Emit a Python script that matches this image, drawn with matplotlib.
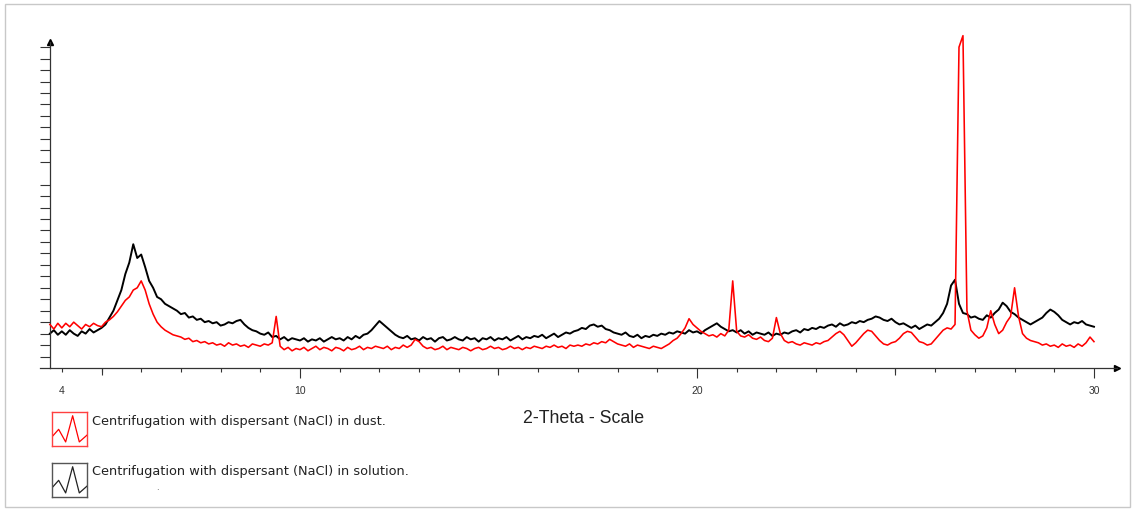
import numpy as np
import matplotlib
matplotlib.use("Agg")
import matplotlib.pyplot as plt
from matplotlib.patches import Rectangle
from matplotlib.ticker import FixedLocator, FuncFormatter

# ---------------- data (2-theta grid, 0.1 deg steps; intensities) ----
two_theta = np.round(np.arange(3.7, 30.0001, 0.1), 1)

solution_counts = [
    300, 330, 290,
    320, 290, 330, 300, 280, 320, 300, 340, 310, 330,
    350, 380, 440, 500, 590, 680, 820, 920, 1080, 960,
    990, 880, 760, 700, 620, 600, 560, 540, 520, 500,
    470, 480, 440, 450, 420, 430, 400, 410, 390, 400,
    370, 380, 400, 390, 410, 420, 380, 350, 330, 320,
    300, 290, 310, 270, 280, 250, 270, 240, 260, 250,
    240, 260, 230, 250, 240, 260, 230, 250, 270, 250,
    260, 240, 270, 250, 280, 260, 290, 300, 330, 370,
    410, 380, 350, 320, 290, 270, 260, 280, 250, 260,
    240, 270, 250, 260, 230, 260, 270, 240, 250, 270,
    250, 240, 270, 250, 260, 230, 260, 250, 270, 240,
    260, 250, 270, 240, 260, 280, 250, 270, 260, 280,
    270, 290, 260, 280, 300, 270, 290, 310, 300, 320,
    330, 350, 340, 370, 380, 360, 370, 340, 330, 310,
    300, 290, 310, 280, 270, 290, 260, 280, 270, 290,
    280, 300, 290, 310, 300, 320, 310, 300, 330, 310,
    320, 300, 330, 350, 370, 390, 360, 340, 320, 330,
    310, 330, 300, 320, 290, 310, 300, 290, 310, 280,
    300, 290, 310, 300, 320, 330, 310, 340, 330, 350,
    340, 360, 350, 370, 380, 360, 390, 370, 380, 400,
    390, 410, 400, 420, 430, 450, 440, 420, 410, 430,
    400, 380, 390, 370, 350, 370, 340, 360, 380, 370,
    400, 430, 480, 560, 720, 770, 560, 480, 470, 440,
    450, 430, 420, 460, 440, 480, 510, 570, 540, 490,
    470, 440, 420, 400, 380, 400, 420, 440, 480, 510,
    490, 460, 420, 400, 380, 400, 390, 410, 380, 370,
    360,
]

dust_counts = [
    380, 340, 390,
    350, 390, 360, 400, 370, 340, 380, 360, 390, 370,
    360, 400, 420, 450, 490, 540, 590, 620, 680, 700,
    760, 680, 560, 470, 400, 360, 330, 310, 290, 280,
    270, 250, 260, 230, 240, 220, 230, 210, 220, 200,
    210, 190, 220, 200, 210, 190, 200, 180, 210, 200,
    190, 210, 200, 220, 450, 190, 160, 180, 150, 170,
    160, 180, 150, 170, 190, 160, 180, 170, 150, 180,
    170, 150, 180, 160, 170, 190, 160, 180, 170, 190,
    180, 170, 190, 160, 180, 170, 200, 180, 200, 250,
    230, 190, 170, 180, 160, 170, 190, 160, 180, 170,
    160, 180, 170, 150, 170, 180, 160, 170, 190, 170,
    180, 160, 170, 190, 170, 180, 160, 180, 170, 190,
    180, 170, 190, 180, 200, 180, 190, 170, 200, 190,
    200, 190, 210, 200, 220, 210, 230, 220, 250, 230,
    210, 200, 190, 210, 180, 200, 190, 180, 170, 190,
    180, 170, 190, 210, 240, 260, 300, 350, 430, 380,
    350, 320, 300, 280, 290, 270, 300, 280, 330, 760,
    320, 280, 270, 290, 260, 250, 270, 240, 230, 260,
    440, 300, 240, 220, 230, 210, 200, 220, 210, 200,
    220, 210, 230, 240, 270, 300, 320, 290, 240, 190,
    220, 260, 300, 330, 320, 280, 240, 210, 200, 220,
    230, 260, 300, 320, 310, 270, 230, 220, 200, 210,
    250, 290, 330, 350, 340, 380, 2800, 2900, 500, 330,
    290, 260, 280, 350, 500, 380, 300, 330, 400, 450,
    700, 450, 300, 260, 240, 230, 220, 200, 210, 190,
    200, 180, 210, 190, 200, 180, 210, 190, 220, 270,
    230,
]

series_labels = [
    "Centrifugation with dispersant (NaCl) in dust.",
    "Centrifugation with dispersant (NaCl) in solution.",
]
x_label = "2-Theta - Scale"
x_tick_labels = {4: "4", 10: "10", 20: "20", 30: "30"}

# ---------------- figure ----------------
W, H = 1134, 511
fig = plt.figure(figsize=(W / 100, H / 100), dpi=100)
fig.patch.set_facecolor("white")

def fx(px):
    return px / W

def fy(py):
    return 1 - py / H

ax_left, ax_right, ax_bottom, ax_top = 49.5, 1117.0, 368.0, 42.0
ax = fig.add_axes([fx(ax_left), fy(ax_bottom), (ax_right - ax_left) / W, (ax_bottom - ax_top) / H])
ax.set_xlim(3.69, 30.58)
ax.set_ylim(0, (ax_bottom - ax_top) / 11.46 * 100)

ax.plot(two_theta, solution_counts, color="black", lw=1.4, zorder=2, clip_on=False)
ax.plot(two_theta, dust_counts, color="#ff0000", lw=1.15, zorder=3, clip_on=False)

axis_col = "#333333"
for s in ["top", "right"]:
    ax.spines[s].set_visible(False)
for s in ["left", "bottom"]:
    ax.spines[s].set_color(axis_col)
    ax.spines[s].set_linewidth(0.9)

# arrows & extension of x axis to the left of the y-axis
ax.plot([-10.0 / (ax_right - ax_left), 0], [0, 0], transform=ax.transAxes,
        color=axis_col, lw=0.9, clip_on=False)
ax.plot(1, 0, marker=">", ms=5, color="black", transform=ax.transAxes, clip_on=False)
ax.plot(0, 1, marker="^", ms=5, color="black", transform=ax.transAxes, clip_on=False)

# x ticks
pt = 72 / 100  # points per pixel
ax.xaxis.set_major_locator(FixedLocator([10, 20, 30]))
ax.xaxis.set_minor_locator(FixedLocator(list(range(4, 31))))
ax.xaxis.set_major_formatter(FuncFormatter(lambda v, p: x_tick_labels.get(int(round(v)), "")))
ax.xaxis.set_minor_formatter(FuncFormatter(lambda v, p: x_tick_labels.get(int(round(v)), "") if int(round(v)) == 4 else ""))
ax.tick_params(axis="x", which="major", length=10 * pt, width=0.8, color=axis_col,
               pad=8 * pt, labelsize=7.5, labelcolor="#333333", direction="out")
ax.tick_params(axis="x", which="minor", length=4 * pt, width=0.8, color=axis_col,
               pad=14 * pt, labelsize=7.5, labelcolor="#333333", direction="out")
for lab in ax.get_xticklabels(which="both"):
    lab.set_family("Liberation Sans")

sec = ax.secondary_xaxis("bottom")
sec.set_xticks([5, 15, 25])
sec.set_xticklabels([])
sec.tick_params(length=7 * pt, width=0.8, color=axis_col)
sec.spines["bottom"].set_visible(False)

# y ticks (unlabelled)
y_ticks = [v for v in range(100, 2900, 100) if v != 1700]
ax.set_yticks(y_ticks)
ax.set_yticklabels([])
ax.tick_params(axis="y", which="major", length=10 * pt, width=0.8, color=axis_col, direction="out")

# x label
ax.set_xlabel(x_label, fontsize=12.8, family="Liberation Sans", color="#222222")
ax.xaxis.set_label_coords((584 - ax_left) / (ax_right - ax_left), (ax_bottom - 410) / (ax_bottom - ax_top))

# legend boxes with zigzag icons
icon_x = [0.0, 0.19, 0.39, 0.59, 0.78, 1.0]
icon_y = [0.27, 0.49, 0.12, 0.89, 0.12, 0.32]
for (top, bot), col, edge, label, ty in [
    ((412, 446), "#ff0000", "#ff4040", series_labels[0], 421),
    ((463, 497), "#222222", "#555555", series_labels[1], 471),
]:
    iax = fig.add_axes([fx(52), fy(bot), 35 / W, (bot - top) / H])
    iax.set_xlim(0, 1)
    iax.set_ylim(0, 1)
    iax.plot(icon_x, icon_y, color=col, lw=0.9)
    iax.set_xticks([])
    iax.set_yticks([])
    for s in iax.spines.values():
        s.set_color(edge)
        s.set_linewidth(1.0)
    fig.text(fx(92), fy(ty), label, fontsize=9.25, family="DejaVu Sans",
             color="#222222", va="center", ha="left")

fig.text(fx(157), fy(487), ".", fontsize=6, color="#444444", ha="center", va="center")

# outer light gray border
fig.add_artist(Rectangle((fx(5), fy(507)), (1130 - 5) / W, (507 - 4) / H,
                         transform=fig.transFigure, fill=False, edgecolor="#c8c8c8", lw=1.0))

fig.savefig("out.png", dpi=100, facecolor="white")
